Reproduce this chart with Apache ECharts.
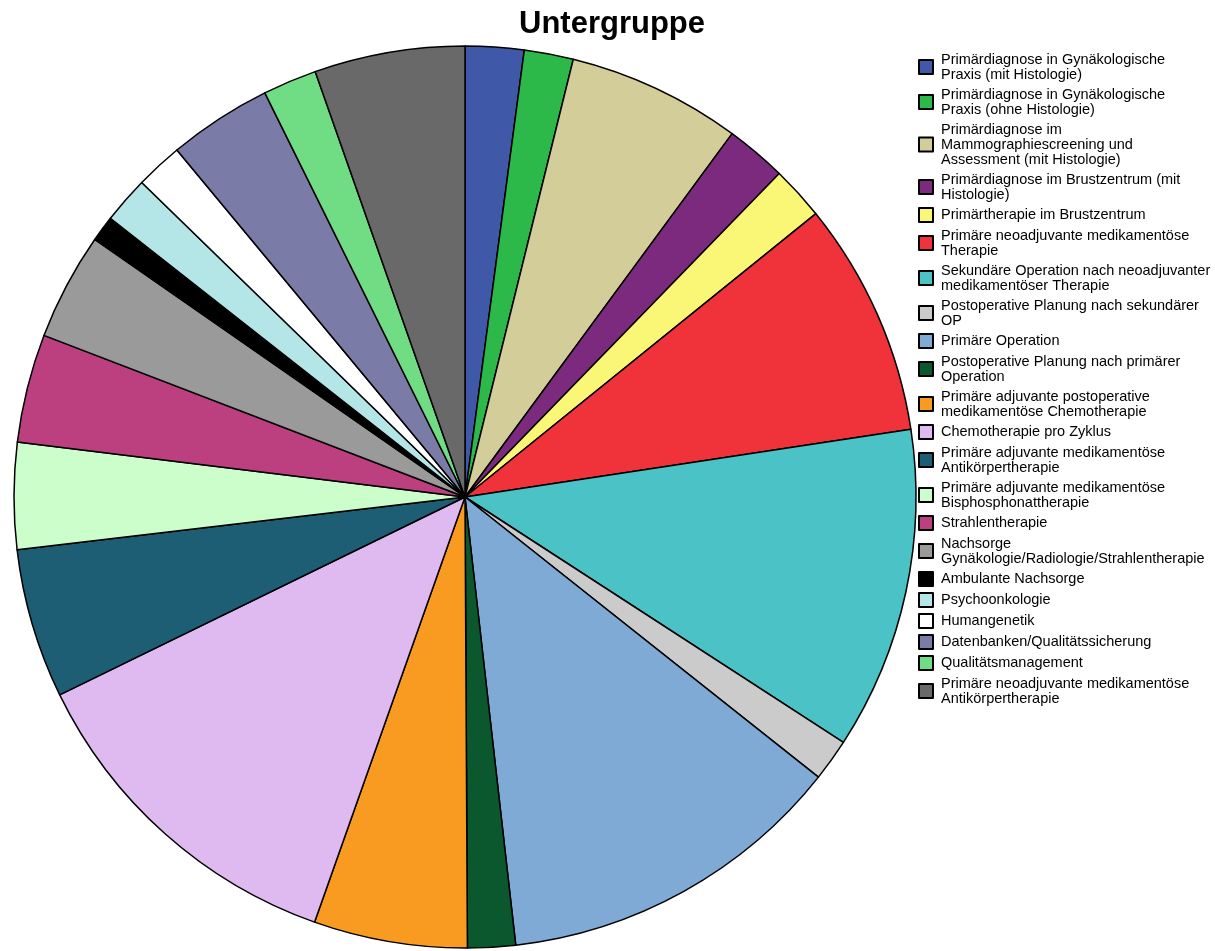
<!DOCTYPE html>
<html>
<head>
<meta charset="utf-8">
<script src="https://cdn.jsdelivr.net/npm/echarts@6/dist/echarts.min.js"></script>
<style>
html,body{margin:0;padding:0;background:#fff;}
#chart{width:1215px;height:951px;}
</style>
</head>
<body>
<div id="chart"></div>
<script>
const title = 'Untergruppe';
const categories = [
  'Primärdiagnose in Gynäkologische Praxis (mit Histologie)',
  'Primärdiagnose in Gynäkologische Praxis (ohne Histologie)',
  'Primärdiagnose im Mammographiescreening und Assessment (mit Histologie)',
  'Primärdiagnose im Brustzentrum (mit Histologie)',
  'Primärtherapie im Brustzentrum',
  'Primäre neoadjuvante medikamentöse Therapie',
  'Sekundäre Operation nach neoadjuvanter medikamentöser Therapie',
  'Postoperative Planung nach sekundärer OP',
  'Primäre Operation',
  'Postoperative Planung nach primärer Operation',
  'Primäre adjuvante postoperative medikamentöse Chemotherapie',
  'Chemotherapie pro Zyklus',
  'Primäre adjuvante medikamentöse Antikörpertherapie',
  'Primäre adjuvante medikamentöse Bisphosphonattherapie',
  'Strahlentherapie',
  'Nachsorge Gynäkologie/Radiologie/Strahlentherapie',
  'Ambulante Nachsorge',
  'Psychoonkologie',
  'Humangenetik',
  'Datenbanken/Qualitätssicherung',
  'Qualitätsmanagement',
  'Primäre neoadjuvante medikamentöse Antikörpertherapie'
];
const legendLabels = [
  'Primärdiagnose in Gynäkologische\nPraxis (mit Histologie)',
  'Primärdiagnose in Gynäkologische\nPraxis (ohne Histologie)',
  'Primärdiagnose im\nMammographiescreening und\nAssessment (mit Histologie)',
  'Primärdiagnose im Brustzentrum (mit\nHistologie)',
  'Primärtherapie im Brustzentrum',
  'Primäre neoadjuvante medikamentöse\nTherapie',
  'Sekundäre Operation nach neoadjuvanter\nmedikamentöser Therapie',
  'Postoperative Planung nach sekundärer\nOP',
  'Primäre Operation',
  'Postoperative Planung nach primärer\nOperation',
  'Primäre adjuvante postoperative\nmedikamentöse Chemotherapie',
  'Chemotherapie pro Zyklus',
  'Primäre adjuvante medikamentöse\nAntikörpertherapie',
  'Primäre adjuvante medikamentöse\nBisphosphonattherapie',
  'Strahlentherapie',
  'Nachsorge\nGynäkologie/Radiologie/Strahlentherapie',
  'Ambulante Nachsorge',
  'Psychoonkologie',
  'Humangenetik',
  'Datenbanken/Qualitätssicherung',
  'Qualitätsmanagement',
  'Primäre neoadjuvante medikamentöse\nAntikörpertherapie'
];
const values = [2.10, 1.76, 6.23, 2.18, 1.92, 8.41, 11.56, 1.51, 12.54, 1.71, 5.50,
                12.36, 5.36, 3.81, 3.89, 3.84, 0.93, 1.68, 1.69, 3.71, 1.93, 5.39];
const colors = ['#3f59a8','#2db84a','#d3ce99','#7b2a7e','#fbf776','#f0333a','#4ac2c6',
                '#cbcbcb','#7eaad5','#0b572e','#f89b20','#debaf0','#1e5e75','#ccfecc',
                '#bc3f7f','#9a9a9a','#000000','#b5e6e7','#ffffff','#7b7ba8','#70dd84','#696969'];

const chart = echarts.init(document.getElementById('chart'));
chart.setOption({
  animation: false,
  backgroundColor: '#ffffff',
  color: colors,
  title: {
    text: title,
    left: 607,
    textAlign: 'center',
    top: 4,
    textStyle: { fontFamily: 'Liberation Sans, Arial, sans-serif', fontSize: 31, fontWeight: 'bold', color: '#000' }
  },
  legend: {
    orient: 'vertical',
    left: 913,
    top: 47,
    itemWidth: 14,
    itemHeight: 14,
    itemGap: 5,
    icon: 'rect',
    selectedMode: false,
    formatter: function (name) { return legendLabels[categories.indexOf(name)]; },
    itemStyle: { borderColor: '#000', borderWidth: 2 },
    textStyle: { fontFamily: 'Liberation Sans, Arial, sans-serif', fontSize: 14.5, color: '#000', lineHeight: 15, padding: [0, 0, 0, 3] },
    data: categories
  },
  series: [{
    type: 'pie',
    center: [465, 497],
    radius: 451,
    startAngle: 90,
    clockwise: true,
    avoidLabelOverlap: false,
    label: { show: false },
    labelLine: { show: false },
    emphasis: { disabled: true },
    itemStyle: { borderColor: '#000', borderWidth: 1.5 },
    data: categories.map((c, i) => ({ name: c, value: values[i] }))
  }]
});
</script>
</body>
</html>
